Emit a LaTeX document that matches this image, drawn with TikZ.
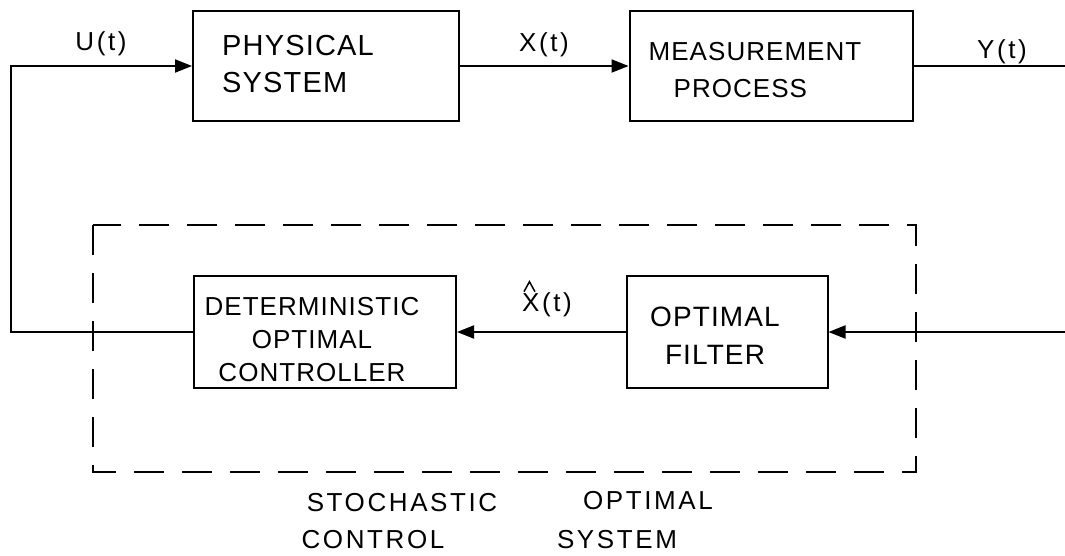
\documentclass[tikz,border=0pt]{standalone}
\usepackage{fontspec}
\newfontfamily\hand[LetterSpace=4]{Liberation Sans}
\newfontfamily\handwide[LetterSpace=10]{Liberation Sans}
\usetikzlibrary{arrows.meta,positioning}
\tikzset{
  blk/.style={draw,line width=2pt,inner sep=0pt},
  blktext/.style={font=\hand\fontsize{26}{37}\selectfont,inner sep=0pt},
  lbl/.style={font=\handwide\fontsize{26}{28}\selectfont,inner sep=0pt},
  captext/.style={font=\handwide\fontsize{26}{28}\selectfont,inner sep=0pt},
  wire/.style={line width=2pt},
  feed/.style={wire,-{Triangle[length=17pt,width=13pt]}},
  bound/.style={line width=2pt,dash pattern=on 30pt off 18pt},
}
\begin{document}
\begin{tikzpicture}[x=1pt,y=-1pt]
\useasboundingbox (0,0) rectangle (1065,555);
% blocks
\node[blk,minimum width=266,minimum height=110] (phys) at (326,66) {};
\node[blk,minimum width=283,minimum height=110] (meas) at (771,66) {};
\node[blk,minimum width=262,minimum height=112] (ctrl) at (325,332) {};
\node[blk,minimum width=201,minimum height=112] (filt) at (727,332) {};
\node[blktext,align=left,font=\hand\fontsize{29}{37}\selectfont] (physT) at (298,64) {PHYSICAL\\SYSTEM};
\node[blktext,align=left] (measT) at (755,70) {MEASUREMENT\\\hspace*{25pt}PROCESS};
\node[blktext,align=center,font=\hand\fontsize{26}{33}\selectfont] (ctrlT) at (312,340) {DETERMINISTIC\\OPTIMAL\\CONTROLLER};
\node[blktext,align=center,font=\hand\fontsize{28}{38}\selectfont] (filtT) at (715,336) {OPTIMAL\\FILTER};
% stochastic optimal control system
\draw[bound] (93,225) rectangle (916,472);
% signals
\coordinate (yout) at (1065,66);
\coordinate (yin) at (1065,332);
\draw[feed] (ctrl.west) -- ++(-182,0) |- (phys.west);
\draw[feed] (phys) -- (meas);
\draw[wire] (meas.east) -- (yout);
\draw[feed] (yin) -- (filt.east);
\draw[feed] (filt) -- (ctrl);
\node[lbl] (u) at (101,44) {U(t)};
\node[lbl] (x) at (544,45) {X(t)};
\node[lbl] (y) at (1002,52) {Y(t)};
\node[lbl] (xhat) at (547,305) {X(t)};
\draw[line width=1.5pt] ([xshift=2pt,yshift=1pt]xhat.north west) -- ++(5.5,-10) -- ++(5.5,10);
\node[captext] (stoch) at (402,503) {STOCHASTIC};
\node[captext] (ctrlw) at (373,540) {CONTROL};
\node[captext] (optw) at (648,501) {OPTIMAL};
\node[captext] (sysw) at (617,540) {SYSTEM};
\end{tikzpicture}
\end{document}
